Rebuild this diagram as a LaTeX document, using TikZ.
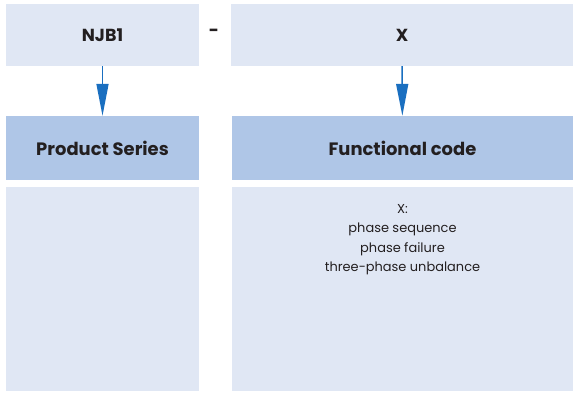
\documentclass[tikz,border=0pt]{standalone}
\usepackage{fontspec}
\setmainfont{Poppins}
\usetikzlibrary{arrows.meta,positioning}
\definecolor{boxlight}{HTML}{E0E7F4}
\definecolor{boxhead}{HTML}{AFC6E7}
\definecolor{arrowblue}{HTML}{1A6FC0}
\definecolor{textdark}{HTML}{231F20}
\tikzset{
  codebox/.style={fill=boxlight, text=textdark, inner sep=0pt, minimum height=62bp, font=\fontsize{17.5}{20}\selectfont\bfseries},
  headbox/.style={fill=boxhead, text=textdark, inner sep=0pt, minimum height=64bp, font=\fontsize{18}{21}\selectfont\bfseries},
  descbox/.style={fill=boxlight, inner sep=0pt, minimum height=204bp},
  codearrow/.style={draw=arrowblue, line width=1.5bp, -{Triangle[length=32bp,width=12bp]}}
}
\begin{document}
\begin{tikzpicture}[x=1bp,y=-1bp]
    \useasboundingbox (0,0) rectangle (573,393);
    % the code boxes
    \node[codebox, minimum width=193bp] (njb) at (102.5,35) {NJB1};
    \node[codebox, minimum width=342bp] (xcode) at (402,35) {X};
    \node[text=textdark, font=\fontsize{17.5}{20}\selectfont\bfseries] (dash) at (214,33) {-};
    % the headers
    \node[headbox, minimum width=193bp] (series) at (102.5,148) {Product Series};
    \node[headbox, minimum width=341bp] (func) at (402.5,148) {Functional code};
    % the description boxes
    \node[descbox, minimum width=193bp] (seriesdesc) at (102.5,289) {};
    \node[descbox, minimum width=341bp] (funcdesc) at (402.5,289) {};
    \node[below=14bp of funcdesc.north, align=center, text=textdark, font=\fontsize{13}{19.5}\selectfont] (funclist)
        {X:\\phase sequence\\phase failure\\three-phase unbalance};
    % draw the arrows
    \draw[codearrow] (njb) -- (series);
    \draw[codearrow] (xcode) -- (func);
\end{tikzpicture}
\end{document}
